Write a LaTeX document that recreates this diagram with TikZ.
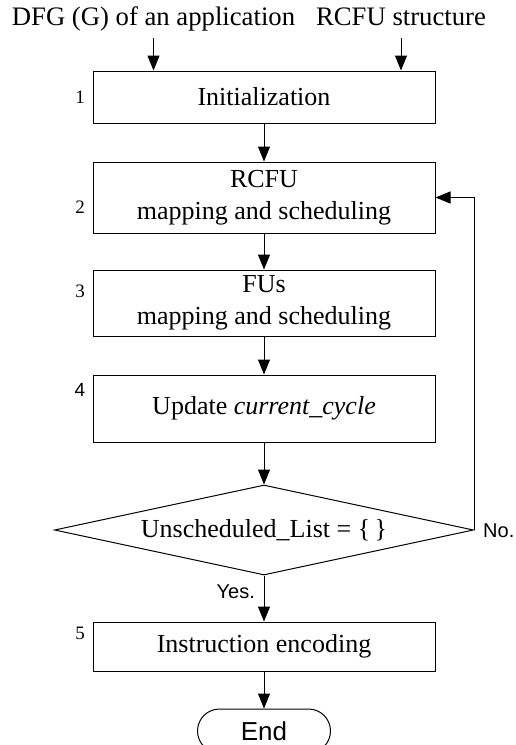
\documentclass[tikz,border=0pt]{standalone}
\usepackage{fontspec}
\setmainfont{Liberation Serif}
\newfontfamily\arialfont{Liberation Sans}
\usetikzlibrary{shapes.geometric,arrows.meta,positioning}

\begin{document}
\begin{tikzpicture}[x=1pt, y=-1pt,
    block/.style={rectangle, draw, line width=1pt, minimum width=342pt, inner sep=0pt, align=center, font=\fontsize{26}{32}\selectfont},
    decision/.style={diamond, draw, line width=1pt, aspect=4.66, minimum width=419pt, minimum height=90pt, inner sep=0pt, font=\fontsize{26}{32}\selectfont},
    term/.style={rectangle, draw, line width=1pt, rounded corners=22pt, minimum width=133pt, minimum height=44pt, font=\arialfont\fontsize{26}{30}\selectfont},
    input/.style={anchor=base, inner xsep=0pt, inner ysep=6pt, text depth=6.5pt, font=\fontsize{26.7}{30}\selectfont},
    num/.style={inner sep=0pt, font=\fontsize{19}{22}\selectfont},
    answer/.style={inner sep=0pt, font=\arialfont\fontsize{20}{24}\selectfont},
    arrow/.style={-{Triangle[length=15pt,width=12pt]}, line width=1pt}
]
\useasboundingbox (0,0) rectangle (515,745);

% inputs of the flow
\node[input] (dfg) at (153.5,25) {DFG (G) of an application};
\node[input] (rcfu) at (401,25) {RCFU structure};

% steps
\node[block, minimum height=52pt] (init) at (264,97) {Initialization};
\node[block, minimum height=71pt, below=38pt of init] (rcfumap) {RCFU\\mapping and scheduling};
\node[block, minimum height=66pt, below=36pt of rcfumap] (fumap) {FUs\\mapping and scheduling};
\node[block, minimum height=67pt, below=38pt of fumap] (update) {Update \textit{current\_cycle}};
\node[decision, below=42pt of update] (check) {Unscheduled\_List = \{\,\}};
\node[block, minimum height=49pt, below=46pt of check] (encode) {Instruction encoding};
\node[term, below=37pt of encode] (end) {End};

% step numbers
\node[num] (n1) at (80,97) {1};
\node[num] (n2) at (80,207) {2};
\node[num] (n3) at (80,291) {3};
\node[num, font=\arialfont\fontsize{19}{22}\selectfont] (n4) at (80,390) {4};
\node[num] (n5) at (80,633) {5};

\node[answer, anchor=west] (no) at ([xshift=9pt, yshift=-1pt]check.east) {No.};
\node[answer, anchor=east] (yes) at ([xshift=-9pt, yshift=-16pt]check.south) {Yes.};

\draw[arrow] (dfg.south) -- (dfg.south |- init.north);
\draw[arrow] (rcfu.south) -- (rcfu.south |- init.north);
\draw[arrow] (init) -- (rcfumap);
\draw[arrow] (rcfumap) -- (fumap);
\draw[arrow] (fumap) -- (update);
\draw[arrow] (update) -- (check);
\draw[arrow] (check) -- (encode);
\draw[arrow] (encode) -- (end);
\draw[arrow] (check.east) |- (rcfumap.east);

\end{tikzpicture}
\end{document}
